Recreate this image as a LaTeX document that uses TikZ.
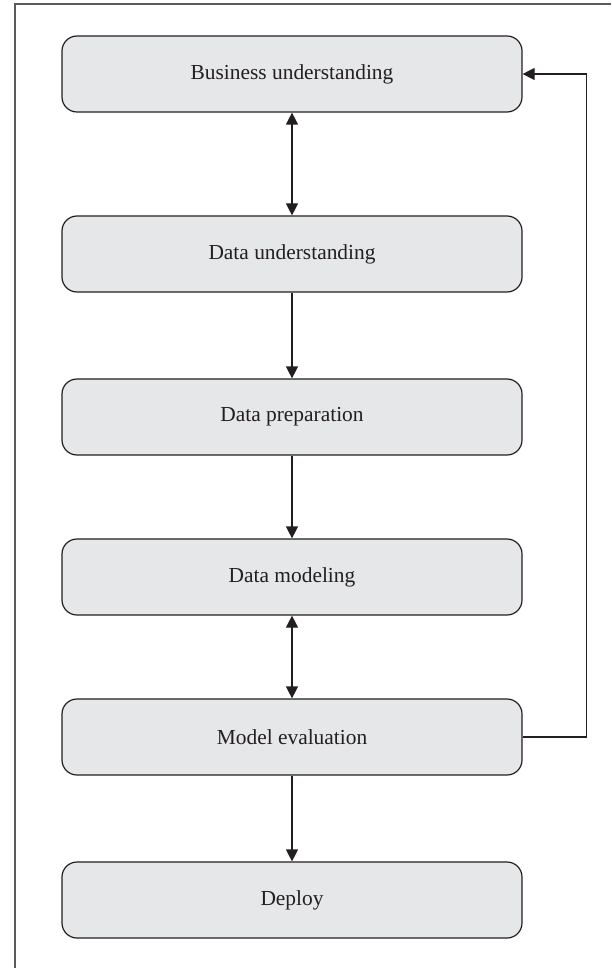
\documentclass[tikz,border=0pt]{standalone}
\usepackage{fontspec}
\setmainfont{Liberation Serif}
\usetikzlibrary{arrows.meta}

\definecolor{boxfill}{HTML}{E6E7E8}
\definecolor{boxline}{HTML}{231F20}
\definecolor{framegray}{HTML}{5A5A5A}

\tikzset{
  stage/.style={draw=boxline, fill=boxfill, rounded corners=7.5pt,
    minimum width=230pt, minimum height=38pt, inner sep=0pt,
    text=boxline, font=\fontsize{10.7}{13}\selectfont}
}

\begin{document}
\begin{tikzpicture}[x=0.5pt,y=-0.5pt,line width=0.6pt,>={Triangle[length=6pt,width=6pt]}]
        \useasboundingbox (0,0) rectangle (611,968);

        % draw the page frame
        \draw[framegray] (15,968) -- (15,4) -- (611,4);

        % draw the stages
        \foreach \y/\name/\txt in {
            74/bu/Business understanding,
            254/du/Data understanding,
            417/dp/Data preparation,
            577/dm/Data modeling,
            737/me/Model evaluation,
            900/dep/Deploy}
                \node[stage] (\name) at (292,\y) {\txt};

        % draw the arrows between the stages
        \draw[boxline,<->] (bu) -- (du);
        \draw[boxline,->] (du) -- (dp);
        \draw[boxline,->] (dp) -- (dm);
        \draw[boxline,<->] (dm) -- (me);
        \draw[boxline,->] (me) -- (dep);

        % back from the evaluation to the start
        \draw[boxline,->] (me.east) -- ++(64,0) |- (bu.east);
\end{tikzpicture}
\end{document}
